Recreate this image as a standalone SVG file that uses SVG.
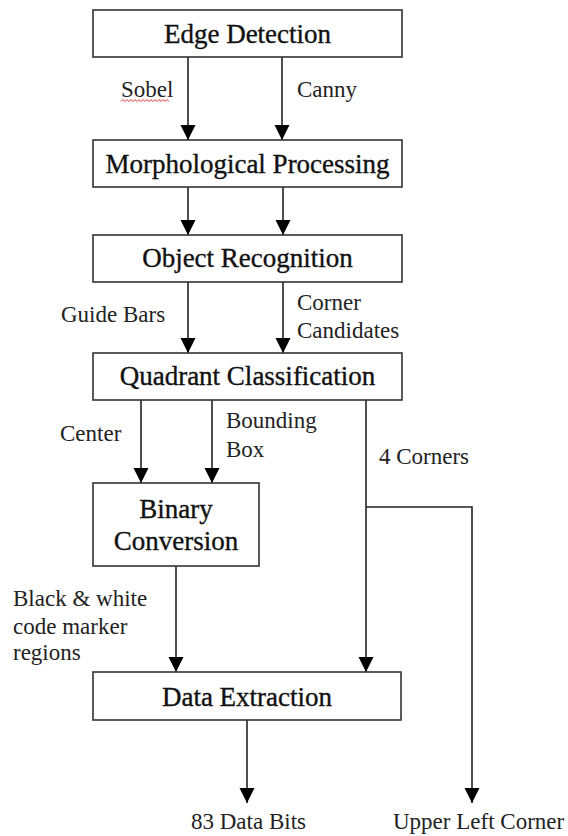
<svg xmlns="http://www.w3.org/2000/svg" width="568" height="836" viewBox="0 0 568 836">
<defs>
<style>
.nodebox{fill:#fff;stroke:#333;stroke-width:1.6}
.conn{fill:none;stroke:#222;stroke-width:1.6}
</style>
<marker id="ah" markerUnits="userSpaceOnUse" markerWidth="16" markerHeight="16" refX="15" refY="8" orient="auto">
<path d="M0,0.5 L15,8 L0,15.5 z" fill="#000"/>
</marker>
</defs>
<rect width="568" height="836" fill="#fff"/>
<g id="connectors">
<line class="conn" x1="188" y1="57" x2="188" y2="140" marker-end="url(#ah)"/>
<line class="conn" x1="282" y1="57" x2="282" y2="140" marker-end="url(#ah)"/>
<line class="conn" x1="188" y1="187" x2="188" y2="235" marker-end="url(#ah)"/>
<line class="conn" x1="283" y1="187" x2="283" y2="235" marker-end="url(#ah)"/>
<line class="conn" x1="188" y1="282" x2="188" y2="353" marker-end="url(#ah)"/>
<line class="conn" x1="283" y1="282" x2="283" y2="353" marker-end="url(#ah)"/>
<line class="conn" x1="141" y1="400" x2="141" y2="483" marker-end="url(#ah)"/>
<line class="conn" x1="212" y1="400" x2="212" y2="483" marker-end="url(#ah)"/>
<line class="conn" x1="366" y1="400" x2="366" y2="672" marker-end="url(#ah)"/>
<polyline class="conn" points="366,507 472,507 472,803" marker-end="url(#ah)"/>
<line class="conn" x1="176" y1="566" x2="176" y2="672" marker-end="url(#ah)"/>
<line class="conn" x1="247" y1="720" x2="247" y2="803" marker-end="url(#ah)"/>
</g>
<g font-family="Liberation Serif" font-size="27" fill="#111" stroke="#111" stroke-width="0.35" text-anchor="middle">
<g id="edge-detection">
<rect class="nodebox" x="93" y="10" width="309" height="47"/>
<text x="247.5" y="43">Edge Detection</text>
</g>
<g id="morphological-processing">
<rect class="nodebox" x="93" y="140" width="309" height="47"/>
<text x="247.5" y="173">Morphological Processing</text>
</g>
<g id="object-recognition">
<rect class="nodebox" x="93" y="235" width="309" height="47"/>
<text x="247.5" y="267">Object Recognition</text>
</g>
<g id="quadrant-classification">
<rect class="nodebox" x="93" y="353" width="309" height="47"/>
<text x="247.5" y="385">Quadrant Classification</text>
</g>
<g id="binary-conversion">
<rect class="nodebox" x="93" y="483" width="166" height="83"/>
<text x="176" y="518">Binary</text>
<text x="176" y="550">Conversion</text>
</g>
<g id="data-extraction">
<rect class="nodebox" x="93" y="672" width="308" height="48"/>
<text x="247" y="706">Data Extraction</text>
</g>
</g>
<g id="labels" font-family="Liberation Serif" font-size="23" fill="#222">
<text x="121" y="97">Sobel</text>
<path d="M121,101.5 l2,-2 l2,2 l2,-2 l2,2 l2,-2 l2,2 l2,-2 l2,2 l2,-2 l2,2 l2,-2 l2,2 l2,-2 l2,2 l2,-2 l2,2 l2,-2 l2,2 l2,-2 l2,2 l2,-2 l2,2 l2,-2 l2,2" fill="none" stroke="#e02020" stroke-width="0.9"/>
<text x="297" y="97">Canny</text>
<text x="61" y="322">Guide Bars</text>
<text x="297" y="310">Corner</text>
<text x="297" y="338">Candidates</text>
<text x="60" y="441">Center</text>
<text x="226" y="428">Bounding</text>
<text x="226" y="457">Box</text>
<text x="379" y="464">4 Corners</text>
<text x="13" y="606">Black &amp; white</text>
<text x="13" y="634">code marker</text>
<text x="13" y="660">regions</text>
<text x="191" y="829">83 Data Bits</text>
<text x="393" y="829">Upper Left Corner</text>
</g>
</svg>
